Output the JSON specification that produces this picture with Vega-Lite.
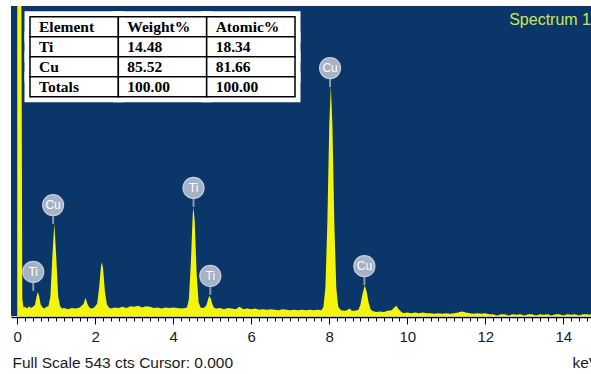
{
  "$schema": "https://vega.github.io/schema/vega-lite/v6.json",
  "width": 580,
  "height": 310,
  "autosize": {"type": "none"},
  "padding": {"left": 11, "top": 6, "right": 0, "bottom": 58},
  "background": "white",
  "config": {"view": {"fill": "#0B3669", "stroke": null}, "font": "Liberation Sans"},
  "title": {"text": "Spectrum 1", "orient": "top", "anchor": "end", "frame": "group", "offset": -38, "fontSize": 16, "fontWeight": "normal", "color": "#CDE84B", "font": "Liberation Sans", "baseline": "bottom"},
  "layer": [
    {
      "layer": [
        {
          "data": {"values": [
            {"keV":0,"counts":700},{"keV":0.1,"counts":700},{"keV":0.13,"counts":30},{"keV":0.16,"counts":15},
            {"keV":0.2,"counts":16},{"keV":0.25,"counts":13},{"keV":0.3,"counts":17},{"keV":0.35,"counts":14},
            {"keV":0.4,"counts":16},{"keV":0.45,"counts":19},{"keV":0.5,"counts":35},{"keV":0.53,"counts":42},
            {"keV":0.56,"counts":35},{"keV":0.6,"counts":20},{"keV":0.65,"counts":15},{"keV":0.7,"counts":13},
            {"keV":0.75,"counts":16},{"keV":0.8,"counts":17},{"keV":0.85,"counts":34},{"keV":0.9,"counts":104},
            {"keV":0.95,"counts":162},{"keV":1.0,"counts":104},{"keV":1.05,"counts":34},{"keV":1.1,"counts":17},
            {"keV":1.15,"counts":13},{"keV":1.2,"counts":14},{"keV":1.3,"counts":12},{"keV":1.4,"counts":14},
            {"keV":1.5,"counts":13},{"keV":1.6,"counts":15},{"keV":1.7,"counts":21},{"keV":1.75,"counts":32},
            {"keV":1.8,"counts":21},{"keV":1.85,"counts":15},{"keV":1.9,"counts":13},{"keV":1.95,"counts":14},
            {"keV":2.0,"counts":17},{"keV":2.05,"counts":22},{"keV":2.1,"counts":50},{"keV":2.15,"counts":89},
            {"keV":2.17,"counts":94},{"keV":2.2,"counts":83},{"keV":2.25,"counts":42},{"keV":2.3,"counts":20},
            {"keV":2.35,"counts":15},{"keV":2.4,"counts":13},{"keV":2.5,"counts":15},{"keV":2.6,"counts":14},
            {"keV":2.7,"counts":16},{"keV":2.8,"counts":14},{"keV":2.9,"counts":17},{"keV":3.0,"counts":16},
            {"keV":3.1,"counts":18},{"keV":3.2,"counts":15},{"keV":3.3,"counts":17},{"keV":3.4,"counts":16},
            {"keV":3.5,"counts":14},{"keV":3.6,"counts":15},{"keV":3.7,"counts":13},{"keV":3.8,"counts":15},
            {"keV":3.9,"counts":14},{"keV":4.0,"counts":15},{"keV":4.1,"counts":14},{"keV":4.2,"counts":13},
            {"keV":4.3,"counts":14},{"keV":4.35,"counts":15},{"keV":4.4,"counts":29},{"keV":4.45,"counts":92},
            {"keV":4.5,"counts":179},{"keV":4.52,"counts":190},{"keV":4.55,"counts":166},{"keV":4.6,"counts":74},
            {"keV":4.65,"counts":24},{"keV":4.7,"counts":15},{"keV":4.75,"counts":14},{"keV":4.8,"counts":15},
            {"keV":4.85,"counts":19},{"keV":4.9,"counts":31},{"keV":4.93,"counts":35},{"keV":4.96,"counts":31},
            {"keV":5.0,"counts":21},{"keV":5.05,"counts":14},{"keV":5.1,"counts":13},{"keV":5.2,"counts":14},
            {"keV":5.3,"counts":12},{"keV":5.4,"counts":14},{"keV":5.5,"counts":13},{"keV":5.6,"counts":12},
            {"keV":5.7,"counts":16},{"keV":5.8,"counts":12},{"keV":5.9,"counts":13},{"keV":6.0,"counts":12},
            {"keV":6.1,"counts":13},{"keV":6.2,"counts":11},{"keV":6.3,"counts":12},{"keV":6.4,"counts":11},
            {"keV":6.5,"counts":12},{"keV":6.6,"counts":11},{"keV":6.7,"counts":10},{"keV":6.8,"counts":12},
            {"keV":6.9,"counts":11},{"keV":7.0,"counts":10},{"keV":7.1,"counts":11},{"keV":7.2,"counts":10},
            {"keV":7.3,"counts":11},{"keV":7.4,"counts":10},{"keV":7.5,"counts":11},{"keV":7.6,"counts":10},
            {"keV":7.7,"counts":11},{"keV":7.8,"counts":10},{"keV":7.85,"counts":16},{"keV":7.9,"counts":49},
            {"keV":7.95,"counts":161},{"keV":8.0,"counts":336},{"keV":8.04,"counts":404},{"keV":8.08,"counts":336},
            {"keV":8.13,"counts":161},{"keV":8.18,"counts":49},{"keV":8.23,"counts":16},{"keV":8.3,"counts":10},
            {"keV":8.4,"counts":9},{"keV":8.45,"counts":10},{"keV":8.52,"counts":13},{"keV":8.58,"counts":9},
            {"keV":8.65,"counts":9},{"keV":8.75,"counts":11},{"keV":8.8,"counts":20},{"keV":8.85,"counts":38},
            {"keV":8.91,"counts":54},{"keV":8.96,"counts":42},{"keV":9.01,"counts":23},{"keV":9.06,"counts":12},
            {"keV":9.1,"counts":9},{"keV":9.2,"counts":7},{"keV":9.3,"counts":8},{"keV":9.4,"counts":7},
            {"keV":9.5,"counts":9},{"keV":9.6,"counts":10},{"keV":9.65,"counts":14},{"keV":9.72,"counts":18},
            {"keV":9.78,"counts":12},{"keV":9.85,"counts":7},{"keV":9.9,"counts":5},{"keV":10.0,"counts":6},
            {"keV":10.1,"counts":5},{"keV":10.2,"counts":6},{"keV":10.3,"counts":5},{"keV":10.4,"counts":6},
            {"keV":10.5,"counts":5},{"keV":10.6,"counts":5},{"keV":10.7,"counts":4},{"keV":10.8,"counts":5},
            {"keV":10.9,"counts":4},{"keV":11.0,"counts":5},{"keV":11.1,"counts":4},{"keV":11.2,"counts":5},
            {"keV":11.3,"counts":6},{"keV":11.4,"counts":8},{"keV":11.5,"counts":6},{"keV":11.6,"counts":5},
            {"keV":11.7,"counts":4},{"keV":11.8,"counts":5},{"keV":11.9,"counts":4},{"keV":12.0,"counts":5},
            {"keV":12.1,"counts":3},{"keV":12.2,"counts":3},{"keV":12.3,"counts":1},{"keV":12.4,"counts":3},
            {"keV":12.5,"counts":3},{"keV":12.6,"counts":1},{"keV":12.7,"counts":3},{"keV":12.8,"counts":2},
            {"keV":12.9,"counts":3},{"keV":13.0,"counts":1},{"keV":13.1,"counts":3},{"keV":13.2,"counts":3},
            {"keV":13.3,"counts":1},{"keV":13.4,"counts":3},{"keV":13.5,"counts":2},{"keV":13.6,"counts":3},
            {"keV":13.7,"counts":1},{"keV":13.8,"counts":3},{"keV":13.9,"counts":3},{"keV":14.0,"counts":1},
            {"keV":14.1,"counts":3},{"keV":14.2,"counts":2},{"keV":14.3,"counts":3},{"keV":14.4,"counts":1},
            {"keV":14.5,"counts":3},{"keV":14.6,"counts":3},{"keV":14.71,"counts":2}
          ]},
          "mark": {"type": "area", "color": "#F4F40C", "clip": true, "interpolate": "linear"},
          "encoding": {
            "x": {"field": "keV", "type": "quantitative",
                  "scale": {"domain": [-0.16, 14.71], "nice": false, "zero": false},
                  "axis": {"orient": "bottom", "tickCount": 75, "labels": false, "grid": false, "ticks": true,
                           "tickSize": 4, "tickColor": "black", "tickWidth": 1, "domain": true, "domainColor": "black",
                           "domainWidth": 1.5, "offset": 1,
                           "title": "Full Scale 543 cts Cursor: 0.000", "titleAnchor": "start", "titleAlign": "left",
                           "titleX": 1, "titleY": 45, "titleBaseline": "middle", "titleFontSize": 15.5,
                           "titleFontWeight": "normal", "titleColor": "#1a1a1a", "titleFont": "Liberation Sans"}},
            "y": {"field": "counts", "type": "quantitative", "scale": {"domain": [0, 543], "nice": false, "zero": true}, "axis": null}
          }
        },
        {
          "data": {"values": [
            {"keV":0.41,"counts":44,"el":"Ti"},
            {"keV":0.92,"counts":161,"el":"Cu"},
            {"keV":4.52,"counts":191,"el":"Ti"},
            {"keV":4.95,"counts":37,"el":"Ti"},
            {"keV":8.02,"counts":401,"el":"Cu"},
            {"keV":8.9,"counts":54,"el":"Cu"}
          ]},
          "encoding": {
            "x": {"field": "keV", "type": "quantitative",
                  "axis": {"orient": "bottom", "values": [0,2,4,6,8,10,12,14], "labels": true, "grid": false,
                           "tickSize": 7, "tickColor": "black", "tickWidth": 1, "domain": false, "offset": 1,
                           "labelFontSize": 15, "labelColor": "#1a1a1a", "labelPadding": 5, "labelFont": "Liberation Sans",
                           "title": "keV", "titleX": 561, "titleY": 45, "titleAlign": "left", "titleBaseline": "middle",
                           "titleFontSize": 15.5, "titleFontWeight": "normal", "titleColor": "#1a1a1a", "titleFont": "Liberation Sans"}},
            "y": {"field": "counts", "type": "quantitative", "axis": null}
          },
          "layer": [
            {"mark": {"type": "tick", "orient": "vertical", "size": 10, "thickness": 2, "color": "#B9C3D3", "yOffset": -5}},
            {"mark": {"type": "point", "shape": "circle", "filled": true, "size": 441, "color": "#A6B2C6", "opacity": 1, "stroke": "#C6CEDB", "strokeWidth": 1.2, "yOffset": -19}},
            {"mark": {"type": "text", "color": "white", "fontSize": 12, "font": "Liberation Sans", "align": "center", "baseline": "middle", "yOffset": -19},
             "encoding": {"text": {"field": "el"}}}
          ]
        }
      ],
      "resolve": {"axis": {"x": "independent"}}
    },
    {
      "data": {"values": [
        {"row":"h","col":"Element","t":"Element"},
        {"row":"h","col":"Weight%","t":"Weight%"},
        {"row":"h","col":"Atomic%","t":"Atomic%"},
        {"row":"Ti","col":"Element","t":"Ti"},
        {"row":"Ti","col":"Weight%","t":"14.48"},
        {"row":"Ti","col":"Atomic%","t":"18.34"},
        {"row":"Cu","col":"Element","t":"Cu"},
        {"row":"Cu","col":"Weight%","t":"85.52"},
        {"row":"Cu","col":"Atomic%","t":"81.66"},
        {"row":"Totals","col":"Element","t":"Totals"},
        {"row":"Totals","col":"Weight%","t":"100.00"},
        {"row":"Totals","col":"Atomic%","t":"100.00"}
      ]},
      "encoding": {
        "x": {"field": "col", "type": "nominal", "axis": null,
              "scale": {"type": "band", "domain": ["Element","Weight%","Atomic%"], "range": [19, 284], "paddingInner": 0, "paddingOuter": 0}},
        "y": {"field": "row", "type": "nominal", "axis": null,
              "scale": {"type": "band", "domain": ["h","Ti","Cu","Totals"], "range": [10.7, 90.7], "paddingInner": 0, "paddingOuter": 0}}
      },
      "layer": [
        {"mark": {"type": "rect", "fill": "white", "stroke": "white", "strokeWidth": 11}},
        {"mark": {"type": "rect", "fill": "white", "stroke": "black", "strokeWidth": 1.5}},
        {"mark": {"type": "text", "align": "left", "dx": 9, "baseline": "middle", "font": "Liberation Serif", "fontWeight": "bold", "fontSize": 15.5, "color": "black"},
         "encoding": {
           "text": {"field": "t"},
           "x": {"field": "col", "type": "nominal", "bandPosition": 0, "axis": null},
           "y": {"field": "row", "type": "nominal", "bandPosition": 0.5, "axis": null}
         }}
      ]
    }
  ],
  "resolve": {"scale": {"x": "independent", "y": "independent"}}
}
